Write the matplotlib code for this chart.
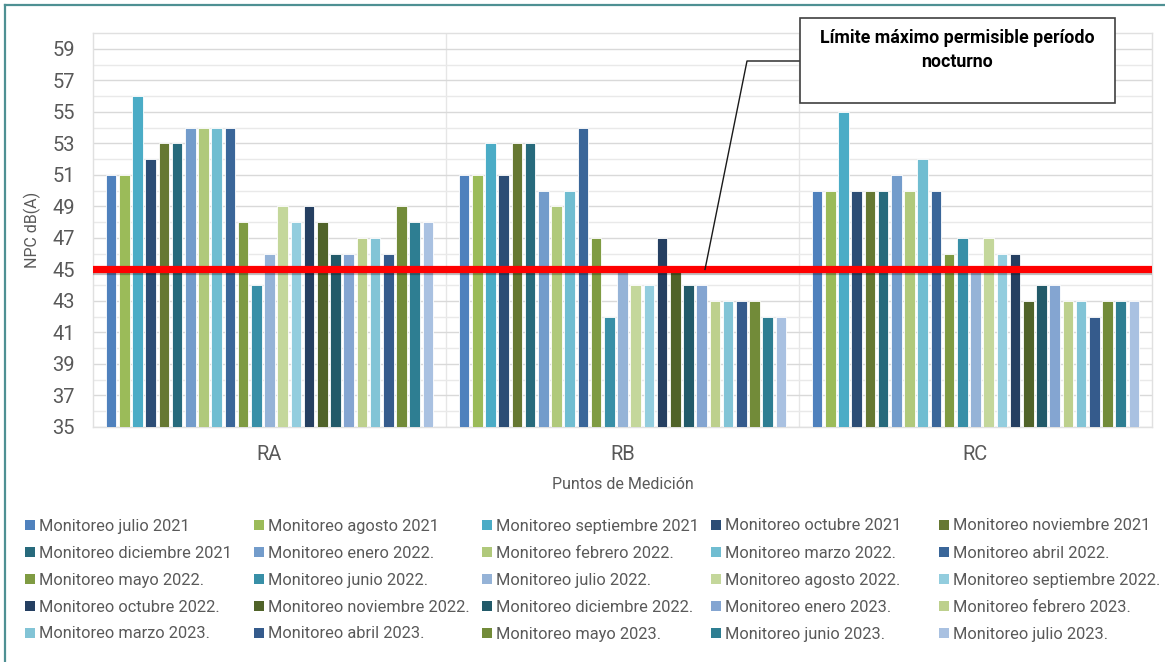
import matplotlib
matplotlib.use("Agg")
import matplotlib.pyplot as plt
import matplotlib.patheffects as pe
from matplotlib.patches import Rectangle
from matplotlib.lines import Line2D
import numpy as np

plt.rcParams['font.family'] = ['Liberation Sans Narrow', 'Roboto', 'DejaVu Sans']

# Measuring points
points = ["RA", "RB", "RC"]

# Monitoring campaigns (series)
series_names = [
    "Monitoreo julio 2021", "Monitoreo agosto 2021", "Monitoreo septiembre 2021",
    "Monitoreo octubre 2021", "Monitoreo noviembre 2021", "Monitoreo diciembre 2021",
    "Monitoreo enero 2022.", "Monitoreo febrero 2022.", "Monitoreo marzo 2022.",
    "Monitoreo abril 2022.", "Monitoreo mayo 2022.", "Monitoreo junio 2022.",
    "Monitoreo julio 2022.", "Monitoreo agosto 2022.", "Monitoreo septiembre 2022.",
    "Monitoreo octubre 2022.", "Monitoreo noviembre 2022.", "Monitoreo diciembre 2022.",
    "Monitoreo enero 2023.", "Monitoreo febrero 2023.", "Monitoreo marzo 2023.",
    "Monitoreo abril 2023.", "Monitoreo mayo 2023.", "Monitoreo junio 2023.",
    "Monitoreo julio 2023.",
]

# NPC dB(A) per campaign at each point
npc_ra = [51, 51, 56, 52, 53, 53, 54, 54, 54, 54, 48, 44, 46, 49, 48, 49, 48, 46, 46, 47, 47, 46, 49, 48, 48]
npc_rb = [51, 51, 53, 51, 53, 53, 50, 49, 50, 54, 47, 42, 45, 44, 44, 47, 45, 44, 44, 43, 43, 43, 43, 42, 42]
npc_rc = [50, 50, 55, 50, 50, 50, 51, 50, 52, 50, 46, 47, 45, 47, 46, 46, 43, 44, 44, 43, 43, 42, 43, 43, 43]

# Night-time maximum permissible limit
night_limit = 45

y_ticks = list(range(35, 60, 2))

colors = [
    "#4F81BD", "#9BBB59", "#4BACC6",
    "#2C4D75", "#667832", "#276A7C",
    "#739CCB", "#B0C97B", "#70BDD1",
    "#3A6699", "#7F9B42", "#388FA7",
    "#95B3D7", "#C4D79B", "#93CDDE",
    "#253F61", "#506329", "#225A69",
    "#84A5D1", "#BDD08D", "#82C4D6",
    "#355B8C", "#728B39", "#2E7E92",
    "#A9C1E1",
]

values = np.array([npc_ra, npc_rb, npc_rc])  # shape (points, series)

W, H = 1165, 662
fig = plt.figure(figsize=(W / 100, H / 100), dpi=100)
ax = fig.add_axes([93 / W, 1 - 427 / H, (1152 - 93) / W, (427 - 33) / H])

n_series = len(series_names)
slot = 0.0374
bar_w = slot * 0.8
x = np.arange(len(points))
for i in range(n_series):
    offs = (i - (n_series - 1) / 2) * slot
    ax.bar(x + offs, values[:, i] - 35, bottom=35, width=bar_w,
           color=colors[i], edgecolor="#FFFFFF", linewidth=0.6, zorder=3,
           label=series_names[i])

ax.set_xlim(-0.5, len(points) - 0.5)
ax.set_ylim(35, 60)
ax.set_yticks(y_ticks)
ax.set_yticks(range(36, 60, 2), minor=True)
ax.set_xticks(x)
ax.set_xticklabels(points)

# grid: every unit horizontally, category boundaries vertically
ax.grid(axis="y", which="major", color="#D9D9D9", linewidth=1.0, zorder=0)
ax.grid(axis="y", which="minor", color="#E9E9E9", linewidth=1.0, zorder=0)
for b in np.arange(0.5, len(points) - 0.5, 1):
    ax.axvline(b, color="#E6E6E6", linewidth=1.0, zorder=0)
for s in ax.spines.values():
    s.set_color("#E0E0E0")
    s.set_linewidth(1.0)
ax.tick_params(axis="both", which="both", length=0, colors="#595959")
ax.tick_params(axis="y", labelsize=14.5, pad=13)
ax.tick_params(axis="x", labelsize=14.5, pad=13)

ax.set_ylabel("NPC dB(A)", fontsize=11.5, color="#595959", labelpad=8)
ax.set_xlabel("Puntos de Medición", fontsize=11.5, color="#595959", labelpad=9.5)

# limit line with a soft shadow
ax.axhline(night_limit, color="#FF0000", linewidth=5.2, zorder=5, xmax=0.998,
           path_effects=[pe.SimpleLineShadow(offset=(0.8, -1.5), alpha=0.25),
                         pe.Normal()])

# callout box and leader line (axes fraction)
ax_w = 1152 - 93
ax_h = 427 - 33
def axfrac(px, py):
    return (px - 93) / ax_w, (427 - py) / ax_h

bx0, by0 = axfrac(800, 103)
bx1, by1 = axfrac(1115, 18)
ax.add_patch(Rectangle((bx0, by0), bx1 - bx0, by1 - by0, transform=ax.transAxes,
                       facecolor="white", edgecolor="#404040", linewidth=1.2,
                       clip_on=False, zorder=6))
cx, cy = axfrac(957, 38)
ax.text(cx, cy, "Límite máximo permisible período", transform=ax.transAxes,
        ha="center", va="center", fontsize=12.8, fontweight="bold",
        color="black", zorder=7, clip_on=False)
cx2, cy2 = axfrac(957, 62)
ax.text(cx2, cy2, "nocturno", transform=ax.transAxes,
        ha="center", va="center", fontsize=12.8, fontweight="bold",
        color="black", zorder=7, clip_on=False)
p_start = axfrac(800, 61)
p_corner = axfrac(747, 61)
p_end = ((705 - 93) / ax_w, (night_limit - 35) / 25)
ax.add_line(Line2D([p_start[0], p_corner[0], p_end[0]],
                   [p_start[1], p_corner[1], p_end[1]],
                   transform=ax.transAxes, color="#1A1A1A", linewidth=1.0,
                   clip_on=False, zorder=5.5))

# legend laid out row by row, five per row
col_x = [30, 259, 487, 716, 944]
row_y = [525, 552, 579, 606, 633]
for i, name in enumerate(series_names):
    r, c = divmod(i, 5)
    mx, my = col_x[c], row_y[r]
    fig.add_artist(Rectangle(((mx - 5) / W, 1 - (my + 5) / H), 10 / W, 10 / H,
                             transform=fig.transFigure, facecolor=colors[i],
                             edgecolor="none"))
    fig.text((mx + 9) / W, 1 - (my + 1) / H, name, ha="left", va="center",
             fontsize=11.8, color="#595959")

# outer frame
fig.add_artist(Line2D([5 / W, 1], [1 - 5 / H, 1 - 5 / H], transform=fig.transFigure,
                      color="#4E9093", linewidth=1.6))
fig.add_artist(Line2D([5 / W, 5 / W], [0, 1 - 5 / H], transform=fig.transFigure,
                      color="#4E9093", linewidth=1.6))

fig.savefig("out.png", dpi=100)
